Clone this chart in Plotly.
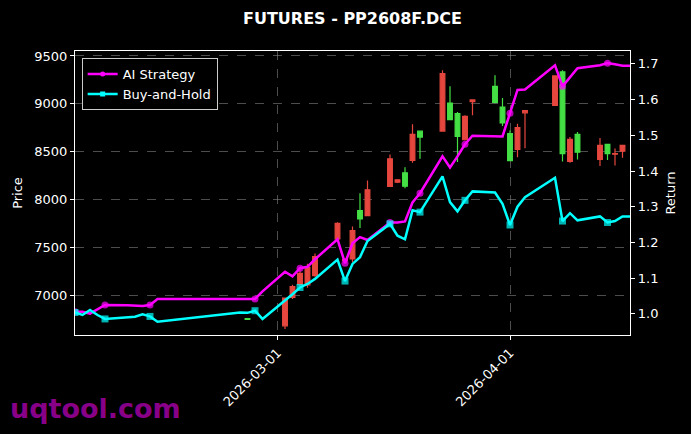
import plotly.graph_objects as go

# ---------------- data ----------------
line_dates = [
    "2026-02-02", "2026-02-03", "2026-02-04", "2026-02-05", "2026-02-06",
    "2026-02-09", "2026-02-10", "2026-02-11", "2026-02-12", "2026-02-13",
    "2026-02-24", "2026-02-25", "2026-02-26", "2026-02-27",
    "2026-03-02", "2026-03-03", "2026-03-04", "2026-03-05", "2026-03-06",
    "2026-03-09", "2026-03-10", "2026-03-11", "2026-03-12", "2026-03-13",
    "2026-03-16", "2026-03-17", "2026-03-18", "2026-03-19", "2026-03-20",
    "2026-03-23", "2026-03-24", "2026-03-25", "2026-03-26", "2026-03-27",
    "2026-03-30", "2026-03-31", "2026-04-01", "2026-04-02", "2026-04-03",
    "2026-04-07", "2026-04-08", "2026-04-09", "2026-04-10",
    "2026-04-13", "2026-04-14", "2026-04-15", "2026-04-16", "2026-04-17",
]
ai_strategy = [
    1.006, 1.006, 1.001, 1.013, 1.025,
    1.024, 1.024, 1.022, 1.025, 1.042,
    1.042, 1.042, 1.042, 1.063,
    1.118, 1.105, 1.128, 1.132, 1.153,
    1.209, 1.142, 1.198, 1.215, 1.207,
    1.256, 1.256, 1.259, 1.312, 1.338,
    1.441, 1.410, 1.441, 1.475, 1.499,
    1.497, 1.497, 1.562, 1.627, 1.628,
    1.696, 1.637, 1.662, 1.688,
    1.696, 1.702, 1.699, 1.695, 1.695,
]
buy_and_hold = [
    1.004, 0.997, 1.011, 0.997, 0.986,
    0.992, 0.992, 0.999, 0.993, 0.978,
    1.004, 1.003, 1.009, 0.986,
    1.037, 1.055, 1.074, 1.084, 1.098,
    1.152, 1.092, 1.140, 1.159, 1.204,
    1.252, 1.219, 1.209, 1.290, 1.285,
    1.385, 1.313, 1.287, 1.318, 1.343,
    1.340, 1.308, 1.249, 1.300, 1.327,
    1.381, 1.260, 1.282, 1.262,
    1.273, 1.256, 1.260, 1.273, 1.273,
]

candle_dates = [
    "2026-02-25",
    "2026-03-02", "2026-03-03", "2026-03-04", "2026-03-05", "2026-03-06",
    "2026-03-09", "2026-03-10", "2026-03-11", "2026-03-12", "2026-03-13",
    "2026-03-16", "2026-03-17", "2026-03-18", "2026-03-19", "2026-03-20",
    "2026-03-23", "2026-03-24", "2026-03-25", "2026-03-26", "2026-03-27",
    "2026-03-30", "2026-03-31", "2026-04-01", "2026-04-02", "2026-04-03",
    "2026-04-07", "2026-04-08", "2026-04-09", "2026-04-10",
    "2026-04-13", "2026-04-14", "2026-04-15", "2026-04-16",
]
opens = [6754, 6678, 6975, 7110, 7105, 7202, 7587, 7362, 7377, 7883, 7831,
         8135, 8180, 8279, 8408, 8714, 8715, 9008, 8897, 8624, 9022,
         9183, 8966, 8687, 8523, 8905, 8984, 9333, 8397, 8680,
         8418, 8575, 8472, 8505]
highs = [6756, 6975, 7108, 7260, 7328, 7433, 7760, 7385, 7716, 8065, 8198,
         8470, 8212, 8337, 8785, 8720, 9351, 9183, 8914, 8880, 9048,
         9298, 9060, 8720, 8792, 8935, 9298, 9351, 8652, 8704,
         8641, 8578, 8533, 8570]
lows = [6744, 6644, 6958, 7095, 7076, 7192, 7575, 7355, 7342, 7702, 7825,
        8130, 8172, 8117, 8383, 8425, 8710, 8830, 8390, 8615, 8880,
        9005, 8767, 8400, 8442, 8535, 8980, 8397, 8383, 8418,
        8350, 8412, 8355, 8436]
closes = [6746, 6969, 7087, 7228, 7289, 7401, 7750, 7374, 7674, 7796, 8100,
          8425, 8205, 8138, 8680, 8652, 9316, 8834, 8659, 8869, 9040,
          9015, 8800, 8406, 8750, 8930, 9291, 8478, 8628, 8494,
          8565, 8478, 8480, 8565]

price_ticks = [7000, 7500, 8000, 8500, 9000, 9500]
return_ticks = [1.0, 1.1, 1.2, 1.3, 1.4, 1.5, 1.6, 1.7]
date_ticks = ["2026-03-01", "2026-04-01"]

# ---------------- styling ----------------
FONT = "DejaVu Sans"
RED = "#e5473e"
GREEN = "#44df44"
MAGENTA = "#ff00ff"
CYAN = "#00ffff"
GRID = "rgba(140,140,140,0.55)"

marker_sizes = [7 if i % 4 == 0 else 0 for i in range(len(line_dates))]

fig = go.Figure()

fig.add_trace(go.Candlestick(
    x=candle_dates, open=opens, high=highs, low=lows, close=closes,
    increasing=dict(line=dict(color=RED, width=1.2), fillcolor=RED),
    decreasing=dict(line=dict(color=GREEN, width=1.2), fillcolor=GREEN),
    whiskerwidth=0, showlegend=False, yaxis="y", name="Price",
))

series = [("AI Strategy", ai_strategy, MAGENTA, "circle"),
          ("Buy-and-Hold", buy_and_hold, CYAN, "square")]
for name, values, color, symbol in series:
    fig.add_trace(go.Scatter(
        x=line_dates, y=values, mode="lines+markers", name=name,
        line=dict(color=color, width=2.5),
        marker=dict(symbol=symbol, size=marker_sizes, color=color, line=dict(width=0)),
        yaxis="y2", showlegend=False, legendgroup=name,
    ))
    # legend entry (line with a marker), no data of its own
    fig.add_trace(go.Scatter(
        x=[None], y=[None], mode="lines+markers", name=name,
        line=dict(color=color, width=2.5),
        marker=dict(symbol=symbol, size=5, color=color, line=dict(width=0)),
        yaxis="y2", showlegend=True, legendgroup=name,
    ))

fig.update_layout(
    width=691, height=434,
    paper_bgcolor="black", plot_bgcolor="black",
    font=dict(family=FONT, color="white", size=13),
    margin=dict(l=75, r=61, t=51, b=99),
    boxgap=0.1,
    title=dict(text="<b>FUTURES - PP2608F.DCE</b>", x=0.5, xref="paper",
               y=1 - 18 / 434, yref="container", xanchor="center", yanchor="middle",
               font=dict(family=FONT, size=16, color="white")),
    xaxis=dict(
        type="date", range=["2026-02-02", "2026-04-17"],
        tickvals=date_ticks, ticktext=date_ticks, tickangle=-45,
        showgrid=True, gridcolor=GRID, griddash="dash", gridwidth=0.8,
        showline=True, linecolor="white", linewidth=1.3, mirror=True,
        ticks="outside", ticklen=4, tickcolor="white",
        rangeslider=dict(visible=False), zeroline=False,
    ),
    yaxis=dict(
        range=[6582, 9552], tickvals=price_ticks,
        title=dict(text="Price", font=dict(size=13), standoff=8),
        showgrid=True, gridcolor=GRID, griddash="dash", gridwidth=0.8,
        showline=True, linecolor="white", linewidth=1.3, mirror=True,
        ticks="outside", ticklen=4, tickcolor="white", zeroline=False,
    ),
    yaxis2=dict(
        range=[0.941, 1.736], tickvals=return_ticks, tickformat=".1f",
        overlaying="y", side="right",
        title=dict(text="Return", font=dict(size=13), standoff=8),
        showgrid=False, showline=True, linecolor="white", linewidth=1.3,
        ticks="outside", ticklen=4, tickcolor="white", zeroline=False,
    ),
    legend=dict(
        x=0.012, y=0.975, xanchor="left", yanchor="top",
        bgcolor="black", bordercolor="#cccccc", borderwidth=1,
        tracegroupgap=0,
        font=dict(family=FONT, size=13, color="white"),
    ),
    annotations=[dict(
        text="<b>uqtool.com</b>", xref="paper", yref="paper",
        x=(8 - 75) / 555, y=(335 - 408) / 284, xanchor="left", yanchor="middle",
        showarrow=False, font=dict(family=FONT, size=27, color="#880088"),
    )],
)

fig.write_html("out.html", config={"displayModeBar": False},
               post_script="document.body.style.margin='0';")
